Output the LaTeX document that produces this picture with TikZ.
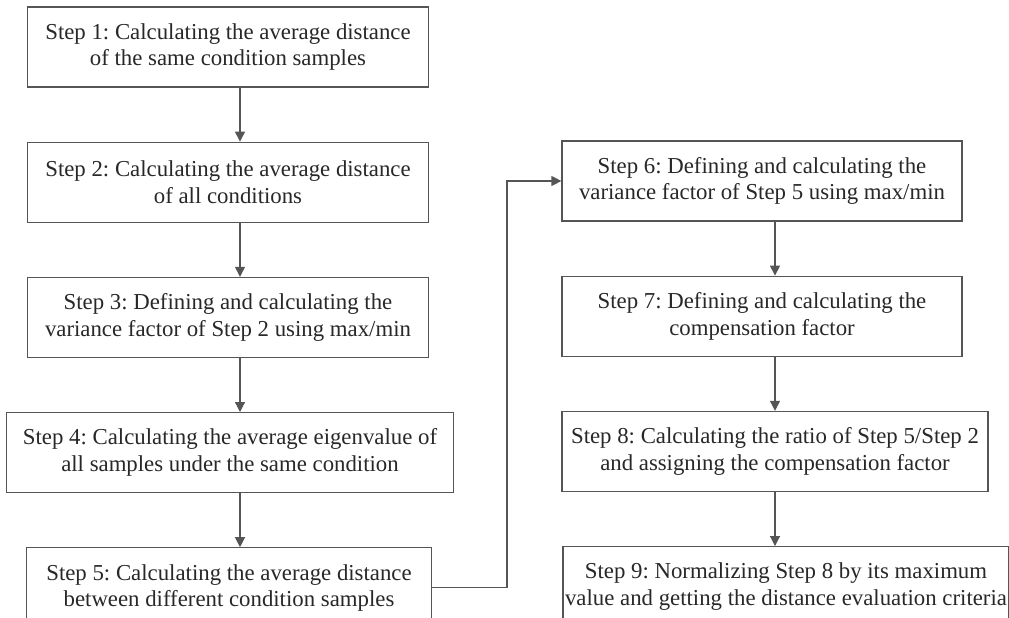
\documentclass[tikz,border=0pt]{standalone}
\usepackage{fontspec}
\setmainfont{Liberation Serif}
\usetikzlibrary{arrows.meta,positioning,calc}
\definecolor{stepline}{RGB}{85,85,85}
\definecolor{steptext}{RGB}{40,40,40}
\tikzset{
  stepbox/.style={draw=stepline, line width=1.2pt, minimum height=80pt, inner sep=1pt,
    align=center, text=steptext, font=\fontsize{22.8}{26.5}\selectfont},
  flow/.style={draw=stepline, line width=1.2pt, -{Triangle[length=10pt,width=10pt]}}
}
\frenchspacing

\begin{document}
\begin{tikzpicture}
\clip (0,0) rectangle (1009pt,-618pt);
\fill[white] (0,0) rectangle (1009pt,-618pt);
% columns of the arrows
\coordinate (lcol) at (240pt,0);
\coordinate (rcol) at (775pt,0);
\coordinate (bend) at (507pt,0);

% left column
\node[stepbox, minimum width=401pt] (s1) at (228pt,-47pt)
  {Step 1: Calculating the average distance\\of the same condition samples};
\node[stepbox, minimum width=401pt, below=54pt of s1] (s2)
  {Step 2: Calculating the average distance\\of all conditions};
\node[stepbox, minimum width=401pt, below=54pt of s2] (s3)
  {Step 3: Defining and calculating the\\variance factor of Step 2 using max/min};
\node[stepbox, minimum width=447pt, below=54pt of s3, xshift=2pt] (s4)
  {Step 4: Calculating the average eigenvalue of\\all samples under the same condition};
\node[stepbox, minimum width=405pt, below=54pt of s4, xshift=-1pt] (s5)
  {Step 5: Calculating the average distance\\between different condition samples};

% right column
\node[stepbox, minimum width=400pt] (s6) at (762pt,-181pt)
  {Step 6: Defining and calculating the\\variance factor of Step 5 using max/min};
\node[stepbox, minimum width=400pt, below=54pt of s6] (s7)
  {Step 7: Defining and calculating the\\compensation factor};
\node[stepbox, minimum width=426pt, below=54pt of s7, xshift=13pt] (s8)
  {Step 8: Calculating the ratio of Step 5/Step 2\\and assigning the compensation factor};
\node[stepbox, minimum width=446pt, below=54pt of s8.south west, anchor=north west, xshift=1pt] (s9)
  {Step 9: Normalizing Step 8 by its maximum\\value and getting the distance evaluation criteria};

% arrows
\foreach \a/\b in {s1/s2,s2/s3,s3/s4,s4/s5}
  \draw[flow] (\a.south -| lcol) -- (\b.north -| lcol);
\foreach \a/\b in {s6/s7,s7/s8,s8/s9}
  \draw[flow] (\a.south -| rcol) -- (\b.north -| rcol);
\draw[flow] (s5.east) -- (s5.east -| bend) |- (s6.west);
\end{tikzpicture}
\end{document}
